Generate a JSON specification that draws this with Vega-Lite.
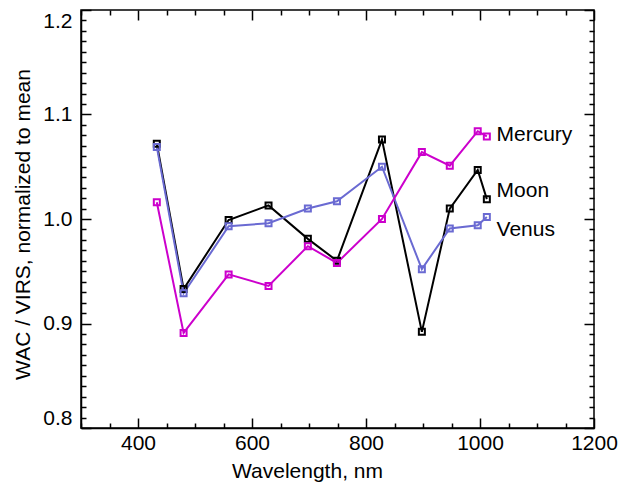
{
  "$schema": "https://vega.github.io/schema/vega-lite/v6.json",
  "width": 513,
  "height": 418,
  "autosize": "none",
  "padding": {"left": 81, "top": 10, "right": 33, "bottom": 57},
  "background": "white",
  "datasets": {
    "spectra": [
      {"planet": "Moon", "wavelength": 433, "ratio": 1.072},
      {"planet": "Moon", "wavelength": 480, "ratio": 0.933},
      {"planet": "Moon", "wavelength": 559, "ratio": 0.999},
      {"planet": "Moon", "wavelength": 629, "ratio": 1.013},
      {"planet": "Moon", "wavelength": 698, "ratio": 0.981},
      {"planet": "Moon", "wavelength": 749, "ratio": 0.960},
      {"planet": "Moon", "wavelength": 828, "ratio": 1.076},
      {"planet": "Moon", "wavelength": 898, "ratio": 0.892},
      {"planet": "Moon", "wavelength": 947, "ratio": 1.010},
      {"planet": "Moon", "wavelength": 996, "ratio": 1.047},
      {"planet": "Moon", "wavelength": 1012, "ratio": 1.019},
      {"planet": "Venus", "wavelength": 433, "ratio": 1.069},
      {"planet": "Venus", "wavelength": 480, "ratio": 0.929},
      {"planet": "Venus", "wavelength": 559, "ratio": 0.993},
      {"planet": "Venus", "wavelength": 629, "ratio": 0.996},
      {"planet": "Venus", "wavelength": 698, "ratio": 1.010},
      {"planet": "Venus", "wavelength": 749, "ratio": 1.017},
      {"planet": "Venus", "wavelength": 828, "ratio": 1.050},
      {"planet": "Venus", "wavelength": 898, "ratio": 0.952},
      {"planet": "Venus", "wavelength": 947, "ratio": 0.991},
      {"planet": "Venus", "wavelength": 996, "ratio": 0.994},
      {"planet": "Venus", "wavelength": 1012, "ratio": 1.002},
      {"planet": "Mercury", "wavelength": 433, "ratio": 1.016},
      {"planet": "Mercury", "wavelength": 480, "ratio": 0.891},
      {"planet": "Mercury", "wavelength": 559, "ratio": 0.947},
      {"planet": "Mercury", "wavelength": 629, "ratio": 0.936},
      {"planet": "Mercury", "wavelength": 698, "ratio": 0.974},
      {"planet": "Mercury", "wavelength": 749, "ratio": 0.958},
      {"planet": "Mercury", "wavelength": 828, "ratio": 1.000},
      {"planet": "Mercury", "wavelength": 898, "ratio": 1.064},
      {"planet": "Mercury", "wavelength": 947, "ratio": 1.051},
      {"planet": "Mercury", "wavelength": 996, "ratio": 1.084},
      {"planet": "Mercury", "wavelength": 1012, "ratio": 1.079}
    ],
    "labels": [
      {"planet": "Mercury", "wavelength": 1029, "ratio": 1.080},
      {"planet": "Moon", "wavelength": 1029, "ratio": 1.027},
      {"planet": "Venus", "wavelength": 1029, "ratio": 0.9895}
    ]
  },
  "config": {
    "view": {"stroke": "black", "strokeWidth": 1.5},
    "font": "Liberation Sans",
    "axis": {
      "grid": false,
      "domainColor": "black",
      "domainWidth": 1.5,
      "tickColor": "black",
      "tickWidth": 1.5,
      "labelFont": "Liberation Sans",
      "labelFontSize": 21,
      "labelColor": "black",
      "titleFont": "Liberation Sans",
      "titleFontSize": 21,
      "titleFontWeight": "normal",
      "titleColor": "black",
      "labelOverlap": false,
      "labelBound": false,
      "labelFlush": false
    }
  },
  "layer": [
    {
      "data": {"name": "spectra"},
      "mark": {"type": "line", "strokeWidth": 2},
      "encoding": {
        "x": {
          "field": "wavelength", "type": "quantitative",
          "scale": {"domain": [300, 1200], "nice": false, "zero": false},
          "axis": {
            "orient": "bottom",
            "title": "Wavelength, nm",
            "values": [400, 600, 800, 1000, 1200],
            "format": "d",
            "ticks": false,
            "labelPadding": 4,
            "titleX": 226,
            "titleY": 43,
            "titleBaseline": "middle",
            "titleAlign": "center"
          }
        },
        "y": {
          "field": "ratio", "type": "quantitative",
          "scale": {"domain": [0.8, 1.2], "nice": false, "zero": false},
          "axis": {
            "orient": "left",
            "title": "WAC / VIRS, normalized to mean",
            "values": [0.8, 0.9, 1.0, 1.1, 1.2],
            "format": ".1f",
            "ticks": false,
            "labelFlush": true,
            "labelPadding": 9,
            "titleX": -58,
            "titleY": 214,
            "titleAngle": -90,
            "titleBaseline": "middle",
            "titleAlign": "center"
          }
        },
        "color": {
          "field": "planet", "type": "nominal",
          "scale": {"domain": ["Mercury", "Moon", "Venus"], "range": ["#cc00cc", "#000000", "#6a6ad2"]},
          "legend": null
        }
      }
    },
    {
      "data": {"name": "spectra"},
      "mark": {"type": "point", "shape": "square", "filled": false, "size": 36, "strokeWidth": 2, "opacity": 1},
      "encoding": {
        "x": {
          "field": "wavelength", "type": "quantitative",
          "axis": {
            "orient": "top", "offset": -418, "title": null, "labels": false, "domain": false,
            "values": [400, 600, 800, 1000, 1200],
            "tickSize": 10
          }
        },
        "y": {
          "field": "ratio", "type": "quantitative",
          "axis": {
            "orient": "right", "offset": -513, "title": null, "labels": false, "domain": false,
            "values": [0.8, 0.9, 1.0, 1.1, 1.2],
            "tickSize": 10
          }
        },
        "color": {"field": "planet", "type": "nominal", "legend": null}
      }
    },
    {
      "data": {"name": "labels"},
      "mark": {"type": "text", "align": "left", "baseline": "middle", "fontSize": 21, "font": "Liberation Sans", "color": "black"},
      "encoding": {
        "x": {
          "field": "wavelength", "type": "quantitative",
          "axis": {
            "orient": "top", "offset": -418, "title": null, "labels": false, "domain": false,
            "values": [300, 350, 450, 500, 550, 650, 700, 750, 850, 900, 950, 1050, 1100, 1150],
            "tickSize": 5
          }
        },
        "y": {
          "field": "ratio", "type": "quantitative",
          "axis": {
            "orient": "right", "offset": -513, "title": null, "labels": false, "domain": false,
            "values": [0.81, 0.82, 0.83, 0.84, 0.85, 0.86, 0.87, 0.88, 0.89, 0.91, 0.92, 0.93, 0.94, 0.95, 0.96, 0.97, 0.98, 0.99, 1.01, 1.02, 1.03, 1.04, 1.05, 1.06, 1.07, 1.08, 1.09, 1.11, 1.12, 1.13, 1.14, 1.15, 1.16, 1.17, 1.18, 1.19],
            "tickSize": 5
          }
        },
        "text": {"field": "planet", "type": "nominal"}
      }
    },
    {
      "data": {"name": "spectra"},
      "mark": {"type": "point", "opacity": 0},
      "encoding": {
        "x": {
          "field": "wavelength", "type": "quantitative",
          "axis": {
            "orient": "bottom", "offset": -418, "title": null, "labels": false, "domain": false,
            "values": [400, 600, 800, 1000, 1200],
            "tickSize": 10
          }
        },
        "y": {
          "field": "ratio", "type": "quantitative",
          "axis": {
            "orient": "left", "offset": -513, "title": null, "labels": false, "domain": false,
            "values": [0.8, 0.9, 1.0, 1.1, 1.2],
            "tickSize": 10
          }
        }
      }
    },
    {
      "data": {"name": "spectra"},
      "mark": {"type": "point", "opacity": 0},
      "encoding": {
        "x": {
          "field": "wavelength", "type": "quantitative",
          "axis": {
            "orient": "bottom", "offset": -418, "title": null, "labels": false, "domain": false,
            "values": [300, 350, 450, 500, 550, 650, 700, 750, 850, 900, 950, 1050, 1100, 1150],
            "tickSize": 5
          }
        },
        "y": {
          "field": "ratio", "type": "quantitative",
          "axis": {
            "orient": "left", "offset": -513, "title": null, "labels": false, "domain": false,
            "values": [0.81, 0.82, 0.83, 0.84, 0.85, 0.86, 0.87, 0.88, 0.89, 0.91, 0.92, 0.93, 0.94, 0.95, 0.96, 0.97, 0.98, 0.99, 1.01, 1.02, 1.03, 1.04, 1.05, 1.06, 1.07, 1.08, 1.09, 1.11, 1.12, 1.13, 1.14, 1.15, 1.16, 1.17, 1.18, 1.19],
            "tickSize": 5
          }
        }
      }
    }
  ],
  "resolve": {"axis": {"x": "independent", "y": "independent"}}
}
